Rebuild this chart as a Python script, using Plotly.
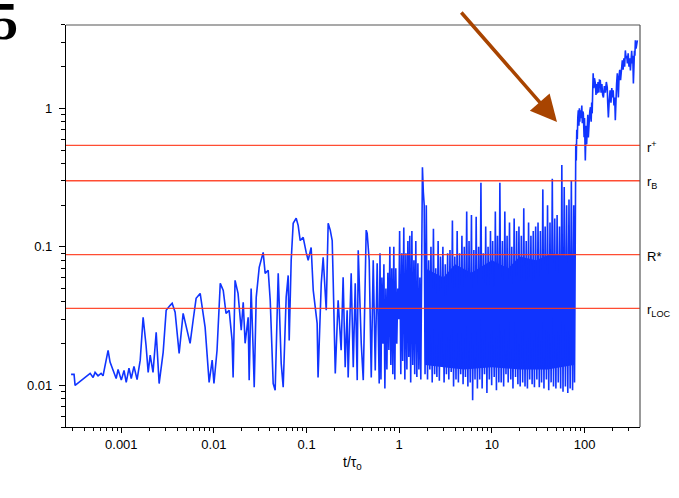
import math
import plotly.graph_objects as go

# ---- data ----
early_t = [2.87e-4, 3.09e-4, 3.17e-4, 3.59e-4, 4.17e-4, 4.61e-4, 4.96e-4, 5.21e-4, 5.61e-4, 6.05e-4,
           6.35e-4, 6.85e-4, 7.2e-4, 7.56e-4, 7.96e-4, 8.35e-4, 8.8e-4, 9.23e-4, 1.0e-3, 1.07e-3,
           1.13e-3, 1.21e-3, 1.28e-3, 1.37e-3, 1.48e-3, 1.6e-3, 1.72e-3, 1.85e-3, 1.95e-3, 2.05e-3,
           2.2e-3, 2.38e-3, 2.56e-3, 2.83e-3, 3.05e-3, 3.37e-3, 3.54e-3, 3.81e-3, 4.21e-3, 4.65e-3,
           5.14e-3, 5.53e-3, 5.96e-3, 6.42e-3, 7.1e-3, 8.03e-3, 8.87e-3, 9.57e-3, 1.0e-2, 1.08e-2,
           1.17e-2, 1.26e-2, 1.35e-2, 1.46e-2, 1.57e-2, 1.61e-2, 1.69e-2, 1.82e-2, 1.97e-2, 2.07e-2,
           2.17e-2, 2.34e-2, 2.40e-2, 2.52e-2, 2.65e-2, 2.72e-2, 2.86e-2, 3.08e-2, 3.40e-2, 3.57e-2,
           3.85e-2, 4.05e-2, 4.36e-2, 4.58e-2, 4.94e-2, 5.32e-2, 5.59e-2, 6.02e-2, 6.33e-2, 6.49e-2,
           6.82e-2, 7.17e-2, 7.72e-2, 8.11e-2, 8.53e-2, 9.19e-2, 9.9e-2, 0.104, 0.112, 0.118,
           0.13, 0.133, 0.144, 0.151, 0.163, 0.171, 0.18, 0.189, 0.194, 0.204,
           0.219, 0.236, 0.248, 0.261, 0.274, 0.281, 0.303, 0.319, 0.335, 0.352,
           0.361, 0.389, 0.409, 0.44, 0.451, 0.474, 0.499, 0.524, 0.551, 0.578, 0.608]
early_r = [0.012, 0.012, 0.010, 0.0107, 0.0117, 0.0122, 0.0114, 0.0124, 0.0117, 0.0122,
           0.0117, 0.0147, 0.0179, 0.0147, 0.0133, 0.0124, 0.0112, 0.013, 0.0109, 0.0128,
           0.0105, 0.0133, 0.0112, 0.0137, 0.011, 0.0152, 0.031, 0.0194, 0.0124, 0.0165,
           0.0124, 0.0241, 0.0103, 0.0173, 0.0348, 0.0378, 0.0391, 0.0337, 0.017, 0.0331,
           0.025, 0.0201, 0.0295, 0.0425, 0.0461, 0.0262, 0.0105, 0.0152, 0.0103, 0.0179,
           0.0545, 0.0485, 0.0331, 0.0348, 0.0211, 0.0114, 0.0573, 0.0461, 0.025, 0.0397,
           0.0201, 0.031, 0.0109, 0.0501, 0.0179, 0.0097, 0.0432, 0.0711, 0.0912, 0.0644,
           0.0677, 0.0411, 0.0103, 0.0092, 0.0644, 0.0144, 0.0097, 0.0432, 0.0622, 0.0211,
           0.08, 0.148, 0.161, 0.143, 0.111, 0.117, 0.0912, 0.08, 0.099, 0.0485,
           0.028, 0.0114, 0.0545, 0.084, 0.0348, 0.148, 0.132, 0.111, 0.0545, 0.0122,
           0.0411, 0.0179, 0.0602, 0.0135, 0.0348, 0.0114, 0.0644, 0.0135, 0.0545, 0.0109,
           0.0944, 0.0201, 0.0109, 0.132, 0.125, 0.08, 0.0114, 0.08, 0.0128, 0.076, 0.0103]

# fluctuating section, t ~ 0.6 .. 1.9
band1_t = [0.62, 0.635, 0.65, 0.667, 0.683, 0.70, 0.718, 0.736, 0.754, 0.773, 0.792, 0.812,
           0.832, 0.853, 0.874, 0.896, 0.918, 0.941, 0.965, 0.989, 1.01, 1.04, 1.065, 1.09,
           1.12, 1.15, 1.18, 1.21, 1.24, 1.27, 1.3, 1.33, 1.37, 1.4, 1.44, 1.47, 1.51, 1.55,
           1.59, 1.63, 1.67, 1.71, 1.75, 1.78, 1.82, 1.86]
band1_r = [0.09, 0.011, 0.06, 0.02, 0.075, 0.0095, 0.05, 0.013, 0.065, 0.018, 0.1, 0.014,
           0.07, 0.012, 0.1, 0.011, 0.07, 0.02, 0.05, 0.03, 0.13, 0.012, 0.09, 0.015,
           0.138, 0.011, 0.09, 0.013, 0.11, 0.016, 0.12, 0.0105, 0.13, 0.014, 0.08, 0.012,
           0.11, 0.0115, 0.076, 0.013, 0.06, 0.011, 0.3, 0.375, 0.25, 0.2]

# dense fluctuating section, t ~ 1.9 .. 78
band2_t = [1.9, 1.96, 2.02, 2.08, 2.14, 2.2, 2.27, 2.34, 2.41, 2.48, 2.55, 2.63, 2.71, 2.79, 2.87,
           2.96, 3.05, 3.14, 3.23, 3.33, 3.43, 3.53, 3.64, 3.75, 3.86, 3.98, 4.1, 4.22, 4.35, 4.48,
           4.61, 4.75, 4.89, 5.04, 5.19, 5.35, 5.51, 5.67, 5.84, 6.02, 6.2, 6.39, 6.58, 6.77, 6.98,
           7.19, 7.4, 7.62, 7.85, 8.09, 8.33, 8.58, 8.84, 9.1, 9.38, 9.66, 9.95, 10.2, 10.6, 10.9,
           11.2, 11.5, 11.9, 12.2, 12.6, 13.0, 13.4, 13.8, 14.2, 14.6, 15.0, 15.5, 16.0, 16.4, 16.9,
           17.4, 18.0, 18.5, 19.1, 19.6, 20.2, 20.8, 21.5, 22.1, 22.8, 23.5, 24.2, 24.9, 25.6, 26.4,
           27.2, 28.0, 28.8, 29.7, 30.6, 31.5, 32.5, 33.4, 34.4, 35.5, 36.5, 37.6, 38.8, 39.9, 41.1,
           42.4, 43.6, 44.9, 46.3, 47.7, 49.1, 50.6, 52.1, 53.7, 55.3, 56.9, 58.6, 60.4, 62.2, 64.1,
           66.0, 68.0, 70.0, 72.1, 74.3, 76.5, 78.0]
band2_r = [0.012, 0.2, 0.011, 0.08, 0.013, 0.1, 0.0105, 0.135, 0.012, 0.07, 0.0115, 0.11, 0.0108, 0.085,
           0.014, 0.1, 0.0105, 0.075, 0.012, 0.09, 0.011, 0.095, 0.0125, 0.155, 0.0098, 0.085, 0.011,
           0.13, 0.0105, 0.09, 0.012, 0.12, 0.0102, 0.1, 0.0115, 0.18, 0.0098, 0.11, 0.0105, 0.17,
           0.0078, 0.095, 0.011, 0.165, 0.0095, 0.1, 0.011, 0.29, 0.0095, 0.09, 0.012, 0.14, 0.0088,
           0.1, 0.011, 0.13, 0.01, 0.11, 0.0115, 0.18, 0.0092, 0.12, 0.0105, 0.29, 0.0105, 0.11,
           0.0098, 0.18, 0.012, 0.12, 0.0105, 0.15, 0.011, 0.1, 0.0095, 0.16, 0.0115, 0.13, 0.0102,
           0.14, 0.0098, 0.12, 0.0105, 0.19, 0.0098, 0.11, 0.0095, 0.15, 0.011, 0.12, 0.0102, 0.13,
           0.0097, 0.14, 0.011, 0.15, 0.0097, 0.13, 0.0105, 0.26, 0.0095, 0.14, 0.011, 0.2, 0.0092,
           0.15, 0.0105, 0.31, 0.0098, 0.16, 0.0095, 0.17, 0.0105, 0.14, 0.0095, 0.39, 0.009, 0.27,
           0.0098, 0.2, 0.0088, 0.22, 0.0095, 0.3, 0.0092, 0.2, 0.0105]

late_t = [79.6, 80.5, 81.5, 82.5, 83.6, 84.6, 85.7, 87, 88, 89, 90.1, 92, 93.5, 94.7, 96, 97.1,
          99, 100, 102, 104, 105.5, 107, 108.5, 110, 112, 114, 116, 118, 119.5, 121, 122.5, 124,
          126, 128, 131, 133, 135, 137, 140, 143, 145, 148, 151, 154, 157, 160, 164, 168, 172,
          176, 178, 181, 185, 189, 193, 197, 200, 204, 208, 212, 215, 218, 222, 226, 229, 232,
          236, 240, 245, 250, 256, 261, 266, 271, 276, 281, 286, 290, 296, 302, 308, 313, 318,
          323, 328, 332, 337, 341, 346, 350, 354, 360, 366, 372]
late_r = [0.25, 0.55, 0.42, 0.7, 0.6, 0.85, 0.97, 0.75, 1.0, 0.8, 0.97, 0.85, 1.05, 0.78, 0.95, 0.92,
          0.62, 0.85, 0.42, 0.75, 0.55, 0.69, 0.9, 0.617, 0.85, 0.95, 1.02, 0.8, 1.1, 0.92, 1.3, 1.79,
          1.4, 1.65, 1.51, 1.25, 1.5, 1.28, 1.55, 1.3, 1.6, 1.59, 1.3, 1.5, 1.25, 1.2, 1.45, 1.3, 1.55,
          1.42, 1.1, 0.86, 1.15, 1.35, 1.1, 1.4, 1.2, 1.35, 1.05, 1.2, 0.82, 1.3, 1.5, 1.79, 1.4, 1.2,
          1.7, 1.9, 1.6, 2.0, 2.22, 1.9, 2.3, 2.0, 2.62, 2.3, 2.4, 2.11, 2.5, 2.0, 2.3, 1.88, 2.2,
          2.6, 2.11, 2.4, 1.51, 2.2, 2.6, 2.4, 3.1, 2.7, 3.0, 3.1]

# dense core (envelope) of the fluctuating band
core_t = [1.9, 3.0, 4.0, 6.0, 10, 15, 20, 30, 45, 60, 77, 77, 40, 20, 10, 5.0, 3.0, 1.9]
core_r = [0.07, 0.06, 0.075, 0.065, 0.08, 0.07, 0.085, 0.08, 0.09, 0.085, 0.09,
          0.014, 0.013, 0.013, 0.0135, 0.013, 0.0135, 0.014]

ref_levels = [0.54, 0.30, 0.088, 0.036]
ref_labels = ["r<sup>+</sup>", "r<sub>B</sub>", "R*", "r<sub>LOC</sub>"]

x_tickvals = [0.001, 0.01, 0.1, 1, 10, 100]
x_ticktext = ["0.001", "0.01", "0.1", "1", "10", "100"]
y_tickvals = [0.01, 0.1, 1]
y_ticktext = ["0.01", "0.1", "1"]

BLUE = "#1034ff"
RED = "#ff3a1c"

t_vals = early_t + band1_t + band2_t + late_t
r_vals = early_r + band1_r + band2_r + late_r

fig = go.Figure()
fig.add_trace(go.Scatter(x=core_t, y=core_r, mode="lines", fill="toself",
                         fillcolor=BLUE, line=dict(width=0, color=BLUE), hoverinfo="skip"))
fig.add_trace(go.Scatter(x=t_vals, y=r_vals, mode="lines",
                         line=dict(color=BLUE, width=1.6)))

for lv in ref_levels:
    fig.add_shape(type="line", xref="paper", x0=0, x1=1, yref="y", y0=lv, y1=lv,
                  line=dict(color=RED, width=1.3), opacity=0.9, layer="above")

for lv, lab in zip(ref_levels, ref_labels):
    fig.add_annotation(xref="paper", x=1, xanchor="left", xshift=5, yref="y", y=math.log10(lv),
                       yanchor="middle", yshift=-2, text=lab, showarrow=False,
                       font=dict(family="Arial, Liberation Sans, sans-serif", size=13, color="black"))

# top and right frame lines (grey)
fig.add_shape(type="line", xref="paper", yref="paper", x0=0, x1=1, y0=1, y1=1,
              line=dict(color="#555555", width=1.2))
fig.add_shape(type="line", xref="paper", yref="paper", x0=1, x1=1, y0=0, y1=1,
              line=dict(color="#555555", width=1.2))

# arrow
fig.add_annotation(xref="paper", yref="paper", x=(557 - 66) / 574, y=(427 - 122) / 402,
                   ax=-97, ay=-111, showarrow=True, arrowhead=2, arrowsize=1.5,
                   arrowwidth=3.5, arrowcolor="#a84400", text="")

# panel label
fig.add_annotation(xref="paper", yref="paper", x=(5 - 66) / 574, y=(427 - 21) / 402,
                   xanchor="center", yanchor="middle", text="<b>5</b>", showarrow=False,
                   font=dict(family="Liberation Serif, Times New Roman, serif", size=52, color="black"))

# x title
fig.add_annotation(xref="paper", yref="paper", x=(352 - 66) / 574, y=-36 / 402,
                   xanchor="center", yanchor="middle", text="t/τ<sub>0</sub>", showarrow=False,
                   font=dict(family="Arial, Liberation Sans, sans-serif", size=14, color="black"))

axis_font = dict(family="Arial, Liberation Sans, sans-serif", size=13, color="black")
fig.update_xaxes(type="log", range=[-3.597, 2.599], tickvals=x_tickvals, ticktext=x_ticktext,
                 ticks="outside", ticklen=5, tickwidth=1, tickcolor="black",
                 showline=True, linecolor="black", linewidth=1.2, showgrid=False, zeroline=False,
                 tickfont=axis_font,
                 minor=dict(ticks="outside", ticklen=3, tickcolor="black", dtick="D1", showgrid=False))
fig.update_yaxes(type="log", range=[-2.301, 0.602], tickvals=y_tickvals, ticktext=y_ticktext,
                 ticks="outside", ticklen=6, tickwidth=1, tickcolor="black",
                 showline=True, linecolor="black", linewidth=1.2, showgrid=False, zeroline=False,
                 tickfont=axis_font, ticklabelstandoff=4,
                 minor=dict(ticks="outside", ticklen=4, tickcolor="black", dtick="D1", showgrid=False))

fig.update_layout(width=679, height=498, margin=dict(l=66, r=39, t=25, b=71),
                  plot_bgcolor="white", paper_bgcolor="white", showlegend=False)

fig.write_html("out.html", config={"displayModeBar": False},
               post_script="document.body.style.margin='0px';")
